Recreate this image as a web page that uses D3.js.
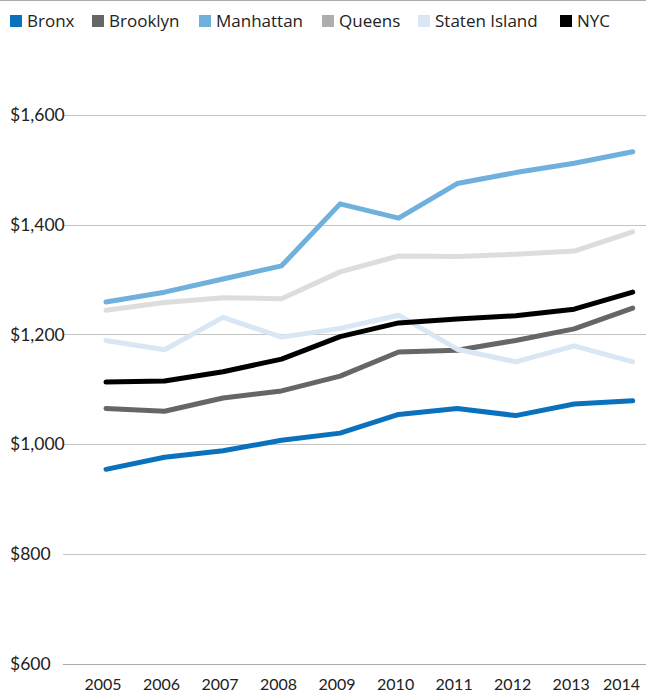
<!DOCTYPE html>
<html>
<head>
<meta charset="utf-8">
<script src="https://cdn.jsdelivr.net/npm/d3@7"></script>
<style>
  html, body { margin: 0; padding: 0; background: #fff; }
  svg { display: block; }
</style>
</head>
<body>
<svg id="chart" width="646" height="694"></svg>
<script>
const years = [2005, 2006, 2007, 2008, 2009, 2010, 2011, 2012, 2013, 2014];
const yTicks = [600, 800, 1000, 1200, 1400, 1600];
const seriesNames = ["Bronx", "Brooklyn", "Manhattan", "Queens", "Staten Island", "NYC"];
const bronx = [954, 976, 988, 1007, 1020, 1054, 1065, 1052, 1073, 1079];
const brooklyn = [1065, 1060, 1084, 1097, 1124, 1168, 1171, 1189, 1210, 1248];
const manhattan = [1259, 1277, 1301, 1325, 1438, 1412, 1475, 1495, 1512, 1533];
const queens = [1244, 1258, 1267, 1265, 1314, 1343, 1342, 1346, 1352, 1387];
const statenIsland = [1189, 1172, 1231, 1195, 1211, 1235, 1173, 1150, 1179, 1150];
const nyc = [1113, 1115, 1132, 1155, 1196, 1221, 1228, 1234, 1246, 1277];
const lineColors = ["#0a72bd", "#666666", "#70b0dc", "#dddddd", "#d8e7f3", "#000000"];
const legendColors = ["#0a72bd", "#666666", "#70b0dc", "#aeaeae", "#d8e7f3", "#000000"];

const seriesValues = [bronx, brooklyn, manhattan, queens, statenIsland, nyc];

const svg = d3.select("#chart");
const W = 646;

// top rule
svg.append("line").attr("x1", 0).attr("x2", W).attr("y1", 0.5).attr("y2", 0.5)
  .attr("stroke", "#aaaaaa").attr("stroke-width", 1);

const x = d3.scaleLinear().domain([2005, 2014]).range([106, 632.7]);
const y = d3.scaleLinear().domain([600, 1600]).range([663.5, 115]);

// gridlines
const grid = svg.append("g");
grid.selectAll("line").data(yTicks).join("line")
  .attr("x1", 63).attr("x2", W)
  .attr("y1", d => Math.round(y(d)) + 0.5).attr("y2", d => Math.round(y(d)) + 0.5)
  .attr("stroke", d => d === 600 ? "#aaaaaa" : "#c4c4c4").attr("stroke-width", 1);

// y labels
const fmt = d3.format("$,");
svg.append("g").selectAll("text").data(yTicks).join("text")
  .attr("x", 10).attr("y", d => y(d))
  .attr("dy", "0.35em")
  .attr("font-family", "Lato, 'Open Sans', sans-serif")
  .attr("font-size", 17.5).attr("fill", "#222")
  .text(d => fmt(d));

// x labels
svg.append("g").selectAll("text").data(years).join("text")
  .attr("x", d => d === 2014 ? 640 : x(d) - 3)
  .attr("y", 690)
  .attr("text-anchor", d => d === 2014 ? "end" : "middle")
  .attr("font-family", "Lato, 'Open Sans', sans-serif")
  .attr("font-size", 16).attr("fill", "#222")
  .text(d => d);

// lines
const line = d3.line().x((d, i) => x(years[i])).y(d => y(d));
svg.append("g").selectAll("path").data(seriesValues).join("path")
  .attr("d", d => line(d))
  .attr("fill", "none")
  .attr("stroke", (d, i) => lineColors[i])
  .attr("stroke-width", 5)
  .attr("stroke-linejoin", "round")
  .attr("stroke-linecap", "round");

// legend
const legendX = [10, 92, 199, 322, 418, 560];
const lg = svg.append("g").selectAll("g").data(seriesNames).join("g")
  .attr("transform", (d, i) => `translate(${legendX[i]},0)`);
lg.append("rect").attr("x", 0).attr("y", 15).attr("width", 12).attr("height", 12)
  .attr("fill", (d, i) => legendColors[i]);
lg.append("text").attr("x", 17).attr("y", 21).attr("dy", "0.35em")
  .attr("font-family", "'Open Sans', 'Noto Sans', sans-serif")
  .attr("font-size", 17).attr("fill", "#222")
  .text(d => d);
</script>
</body>
</html>
